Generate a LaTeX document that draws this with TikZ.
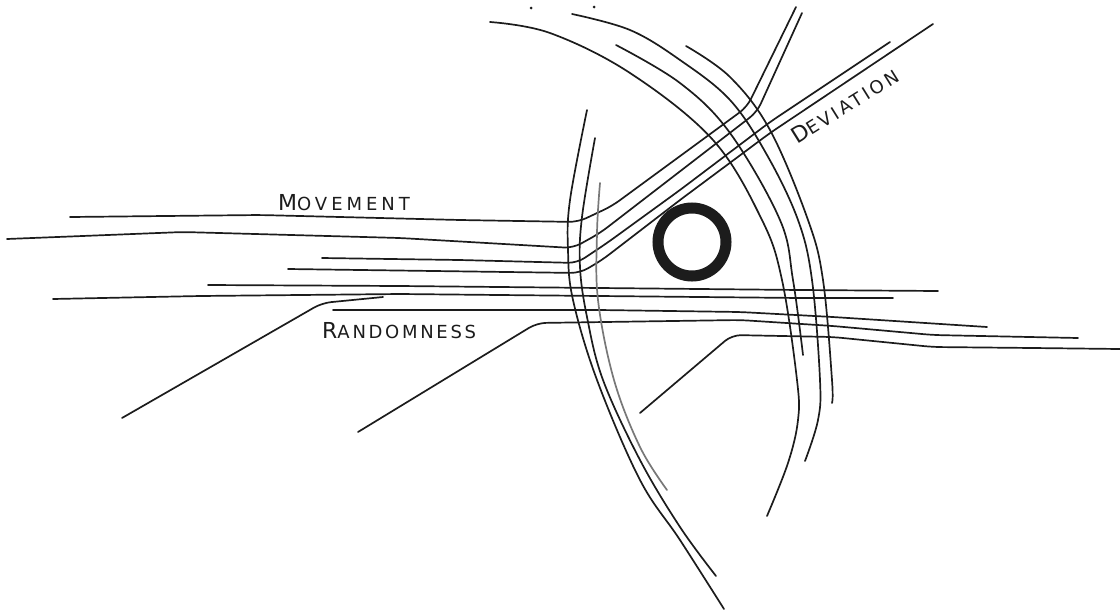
\documentclass[tikz,border=0pt]{standalone}
\usepackage{fontspec}
\usepackage{tikz}
\newfontfamily\handfont{DejaVu Sans}
\definecolor{inkdark}{RGB}{28,28,28}
\definecolor{inkfaint}{RGB}{120,120,120}
\newcommand{\handword}[3]{{\handfont\addfontfeature{LetterSpace=#1}%
  \fontsize{22}{22}\selectfont #2\fontsize{18}{18}\selectfont #3}}
\tikzset{
  penline/.style={line width=1.7pt,color=inkdark,line cap=round,line join=round},
  bendline/.style={penline,rounded corners=9pt},
  arcline/.style={penline},
  faintarc/.style={penline,color=inkfaint},
  ringline/.style={line width=11pt,color=inkdark},
  handlabel/.style={anchor=base west,inner sep=0pt,color=inkdark},
}

\begin{document}
\begin{tikzpicture}[x=1pt,y=-1pt]
\useasboundingbox (0,0) rectangle (1120,614);

% ── Movement bundle, bending up into deviation ───────────────────────────
\draw[bendline] (70,217) -- (260,215) -- (460,220) -- (578,222) -- (612,206) -- (747,107) -- (796,7);
\draw[bendline] (7,239) -- (183,232) -- (400,238) -- (573,248) -- (600,233) -- (757,112) -- (802,13);
\draw[bendline] (322,258) -- (460,260) -- (577,263) -- (607,243) -- (680,190) -- (770,122) -- (890,42);
\draw[bendline] (288,269) -- (580,273) -- (602,260) -- (680,200) -- (770,133) -- (933,24);

% ── Straight-through lines ───────────────────────────────────────────────
\draw[bendline] (208,285) -- (400,286) -- (800,290) -- (938,291);
\draw[bendline] (53,299) -- (200,296) -- (400,294) -- (800,298) -- (893,298);
\draw[bendline] (333,310) -- (600,310) -- (740,312) -- (833,317) -- (987,327);

% ── Randomness lines ─────────────────────────────────────────────────────
\draw[bendline] (122,418) -- (322,303) -- (383,297);
\draw[bendline] (358,432) -- (537,323) -- (740,320) -- (833,326) -- (933,335) -- (1078,338);
\draw[bendline] (640,413) -- (732,335) -- (833,337) -- (933,347) -- (1033,348) -- (1120,349);

% ── Large arcs, top left to right ────────────────────────────────────────
\draw[arcline] plot[smooth,tension=0.6] coordinates
  {(490,22) (550,33) (630,73) (713,140) (762,220) (782,280) (797,380) (798,420) (788,463) (767,516)};
\draw[arcline] plot[smooth,tension=0.6] coordinates
  {(572,14) (630,30) (680,60) (730,100) (767,155) (798,220) (812,280) (820,380) (818,420) (805,461)};
\draw[arcline] plot[smooth,tension=0.6] coordinates
  {(616,45) (680,83) (730,133) (780,220) (793,280) (803,355)};
\draw[arcline] plot[smooth,tension=0.6] coordinates
  {(686,46) (730,77) (770,130) (808,220) (823,280) (832,380) (832,403)};

% ── Left arcs ────────────────────────────────────────────────────────────
\draw[arcline] plot[smooth,tension=0.6] coordinates
  {(587,110) (570,200) (568,250) (573,300) (597,380) (640,480) (680,540) (724,609)};
\draw[arcline] plot[smooth,tension=0.6] coordinates
  {(595,138) (582,217) (580,267) (587,317) (603,380) (640,460) (680,527) (716,576)};
\draw[faintarc] plot[smooth,tension=0.6] coordinates
  {(600,183) (597,233) (598,300) (614,380) (640,447) (667,490)};

% ── Ring and specks ──────────────────────────────────────────────────────
\draw[ringline] (692,242) circle (34);
\foreach \px/\py in {531/8, 594/7}
  \fill[inkdark] (\px,\py) circle (1.5);

% ── Labels ───────────────────────────────────────────────────────────────
\node[handlabel] (movement) at (278,210) {\handword{22}{M}{OVEMENT}};
\node[handlabel] (randomness) at (322,338) {\handword{15}{R}{ANDOMNESS}};
\node[handlabel,rotate=32] (deviation) at (797,145) {\handword{17}{D}{EVIATION}};

\end{tikzpicture}
\end{document}
